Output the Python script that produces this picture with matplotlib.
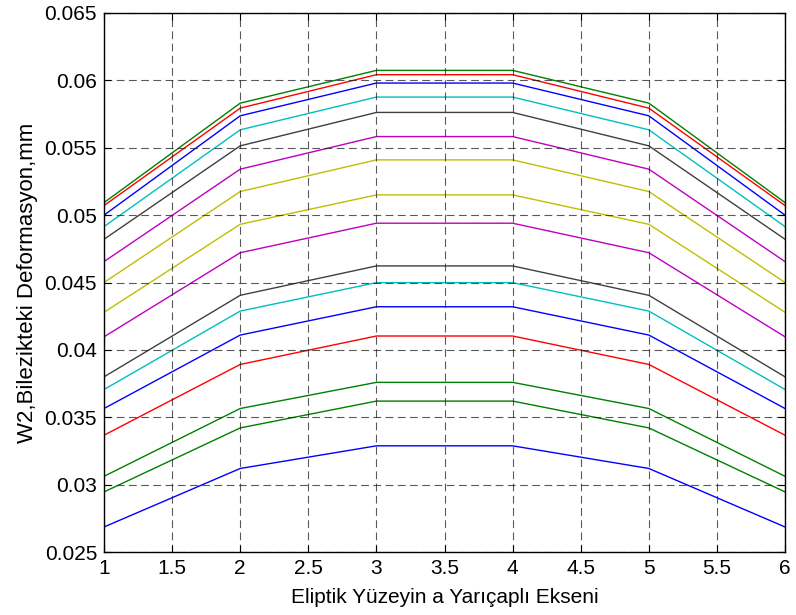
import matplotlib
matplotlib.use("Agg")
import matplotlib.pyplot as plt

plt.rcParams['font.family'] = ['Liberation Sans', 'DejaVu Sans']

# Semi-axis values along the x axis
a_values = [1, 2, 3, 4, 5, 6]

# Ring deformation curves (mm), one per case, top to bottom
curves = [
    [0.05093, 0.05831, 0.06074, 0.06074, 0.05831, 0.05093],
    [0.05071, 0.05794, 0.06042, 0.06042, 0.05794, 0.05071],
    [0.05000, 0.05737, 0.05980, 0.05980, 0.05737, 0.05000],
    [0.04915, 0.05633, 0.05876, 0.05876, 0.05633, 0.04915],
    [0.04821, 0.05514, 0.05762, 0.05762, 0.05514, 0.04821],
    [0.04655, 0.05341, 0.05583, 0.05583, 0.05341, 0.04655],
    [0.04500, 0.05175, 0.05410, 0.05410, 0.05175, 0.04500],
    [0.04279, 0.04932, 0.05150, 0.05150, 0.04932, 0.04279],
    [0.04097, 0.04721, 0.04940, 0.04940, 0.04721, 0.04097],
    [0.03800, 0.04405, 0.04623, 0.04623, 0.04405, 0.03800],
    [0.03706, 0.04288, 0.04499, 0.04499, 0.04288, 0.03706],
    [0.03565, 0.04110, 0.04320, 0.04320, 0.04110, 0.03565],
    [0.03367, 0.03892, 0.04103, 0.04103, 0.03892, 0.03367],
    [0.03062, 0.03565, 0.03759, 0.03759, 0.03565, 0.03062],
    [0.02946, 0.03421, 0.03620, 0.03620, 0.03421, 0.02946],
    [0.02686, 0.03120, 0.03288, 0.03288, 0.03120, 0.02686],
]

curve_colors = [
    (0, 0.5, 0), (1, 0, 0), (0, 0, 1), (0, 0.75, 0.75), (0.25, 0.25, 0.25),
    (0.75, 0, 0.75), (0.75, 0.75, 0), (0.75, 0.75, 0), (0.75, 0, 0.75),
    (0.25, 0.25, 0.25), (0, 0.75, 0.75), (0, 0, 1), (1, 0, 0),
    (0, 0.5, 0), (0, 0.5, 0), (0, 0, 1),
]

x_ticks = [1, 1.5, 2, 2.5, 3, 3.5, 4, 4.5, 5, 5.5, 6]
x_tick_labels = ['1', '1.5', '2', '2.5', '3', '3.5', '4', '4.5', '5', '5.5', '6']
y_ticks = [0.025, 0.03, 0.035, 0.04, 0.045, 0.05, 0.055, 0.06, 0.065]
y_tick_labels = ['0.025', '0.03', '0.035', '0.04', '0.045', '0.05', '0.055', '0.06', '0.065']

fig = plt.figure(figsize=(7.96, 6.15), dpi=100)
ax = fig.add_axes([0.1307, 0.1024, 0.8555, 0.8765])

for vals, col in zip(curves, curve_colors):
    ax.plot(a_values, vals, color=col, linewidth=1.0, zorder=2)

ax.set_xlim(1, 6)
ax.set_ylim(0.025, 0.065)
ax.set_xticks(x_ticks)
ax.set_xticklabels(x_tick_labels)
ax.set_yticks(y_ticks)
ax.set_yticklabels(y_tick_labels)

ax.grid(True, color='#222222', linestyle=(0, (7, 4)), linewidth=0.8, alpha=0.75)
ax.set_axisbelow(False)
for gl in ax.get_xgridlines() + ax.get_ygridlines():
    gl.set_zorder(3)

ax.tick_params(direction='in', length=5, width=0.8, labelsize=15,
               top=True, right=True, pad=5)
for sp in ax.spines.values():
    sp.set_linewidth(1.0)
    sp.set_zorder(4)

ax.set_xlabel('Eliptik Yüzeyin a Yarıçaplı Ekseni', fontsize=15, labelpad=7)
ax.set_ylabel('W2,Bilezikteki Deformasyon,mm', fontsize=16, labelpad=5)

fig.savefig('out.png', dpi=100)
